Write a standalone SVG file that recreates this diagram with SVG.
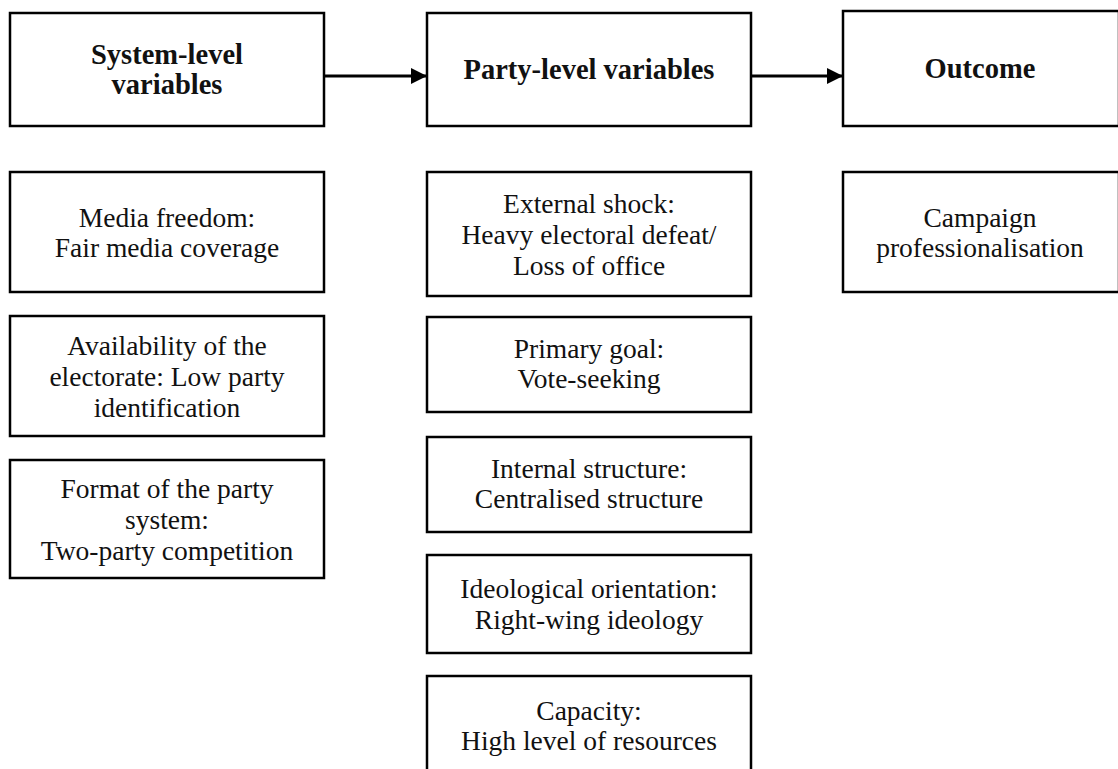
<svg xmlns="http://www.w3.org/2000/svg" width="1118" height="769" viewBox="0 0 1118 769">
<defs>
<style>
.box{fill:#fff;stroke:#000;stroke-width:2.5}
.t{font-family:"Liberation Serif","Times New Roman",serif;font-size:27.5px;fill:#111;text-anchor:middle}
.b{font-weight:bold;font-size:28.5px}
.conn{stroke:#000;stroke-width:3;fill:none}
</style>
<marker id="arr" markerUnits="userSpaceOnUse" markerWidth="17" markerHeight="16" refX="16" refY="8" orient="auto">
<path d="M0,0 L16,8 L0,16 Z" fill="#000"/>
</marker>
</defs>
<rect width="1118" height="769" fill="#fff"/>
<g id="connectors">
<line class="conn" x1="324" y1="76" x2="427" y2="76" marker-end="url(#arr)"/>
<line class="conn" x1="751" y1="76" x2="843" y2="76" marker-end="url(#arr)"/>
</g>
<g id="system-level">
<rect class="box" x="10" y="13" width="314" height="113"/>
<text class="t b" x="167" y="64">System-level</text>
<text class="t b" x="167" y="94">variables</text>
</g>
<g id="party-level">
<rect class="box" x="427" y="13" width="324" height="113"/>
<text class="t b" x="589" y="79">Party-level variables</text>
</g>
<g id="outcome">
<rect class="box" x="843" y="11" width="276" height="115"/>
<text class="t b" x="980" y="78">Outcome</text>
</g>
<g id="media">
<rect class="box" x="10" y="172" width="314" height="120"/>
<text class="t" x="167" y="227">Media freedom:</text>
<text class="t" x="167" y="257">Fair media coverage</text>
</g>
<g id="availability">
<rect class="box" x="10" y="316" width="314" height="120"/>
<text class="t" x="167" y="355">Availability of the</text>
<text class="t" x="167" y="386">electorate: Low party</text>
<text class="t" x="167" y="417">identification</text>
</g>
<g id="format">
<rect class="box" x="10" y="460" width="314" height="118"/>
<text class="t" x="167" y="498">Format of the party</text>
<text class="t" x="167" y="529">system:</text>
<text class="t" x="167" y="560">Two-party competition</text>
</g>
<g id="external-shock">
<rect class="box" x="427" y="172" width="324" height="124"/>
<text class="t" x="589" y="213">External shock:</text>
<text class="t" x="589" y="244">Heavy electoral defeat/</text>
<text class="t" x="589" y="275">Loss of office</text>
</g>
<g id="primary-goal">
<rect class="box" x="427" y="317" width="324" height="95"/>
<text class="t" x="589" y="358">Primary goal:</text>
<text class="t" x="589" y="388">Vote-seeking</text>
</g>
<g id="internal-structure">
<rect class="box" x="427" y="437" width="324" height="95"/>
<text class="t" x="589" y="478">Internal structure:</text>
<text class="t" x="589" y="508">Centralised structure</text>
</g>
<g id="ideological">
<rect class="box" x="427" y="555" width="324" height="98"/>
<text class="t" x="589" y="598">Ideological orientation:</text>
<text class="t" x="589" y="629">Right-wing ideology</text>
</g>
<g id="capacity">
<rect class="box" x="427" y="676" width="324" height="110"/>
<text class="t" x="589" y="720">Capacity:</text>
<text class="t" x="589" y="750">High level of resources</text>
</g>
<g id="campaign">
<rect class="box" x="843" y="172" width="276" height="120"/>
<text class="t" x="980" y="227">Campaign</text>
<text class="t" x="980" y="257">professionalisation</text>
</g>
</svg>
